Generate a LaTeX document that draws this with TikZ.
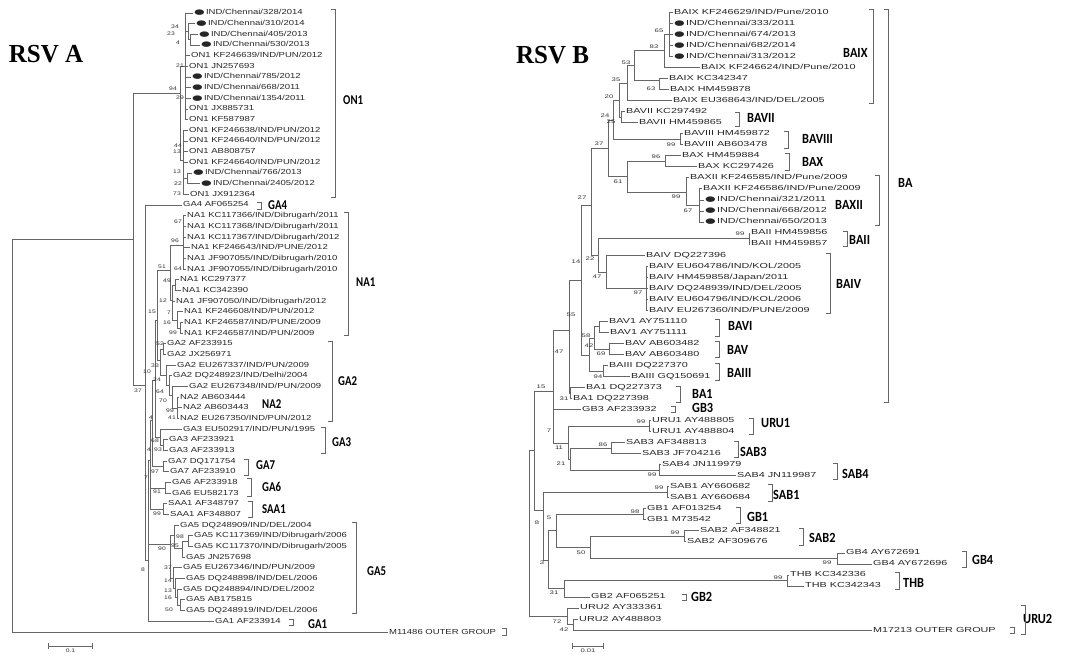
\documentclass[tikz,border=0pt]{standalone}
\usepackage{fontspec}
\newfontfamily\leaffont[FakeStretch=1.3]{Liberation Sans}
\newfontfamily\leafBfont[FakeStretch=1.48]{Liberation Sans}
\newfontfamily\dotfont[FakeStretch=1.7]{DejaVu Sans}
\newfontfamily\cladefont[FakeStretch=0.8]{Carlito}
\newfontfamily\cladeBfont[FakeStretch=0.88]{Carlito}
\newfontfamily\titlefont[FakeStretch=0.96]{Liberation Serif}
\usetikzlibrary{positioning, arrows.meta}
\newcommand{\chdot}{{\dotfont\fontsize{7.2}{7}\selectfont ●}\,}

\begin{document}
\begin{tikzpicture}[x=1pt,y=-1pt,
		br/.style={draw=black!60,line width=0.6pt},
		brk/.style={draw=black!60,line width=0.7pt},
		leaf/.style={anchor=west,inner sep=1pt,text height=5.3pt,text depth=1.3pt,font=\leaffont\fontsize{7.3}{8}\selectfont,text=black!85},
		leafB/.style={leaf,font=\leafBfont\fontsize{7.3}{8}\selectfont},
		bs/.style={inner sep=0pt,font=\leaffont\fontsize{5.2}{6}\selectfont,text=black!80},
		bsB/.style={bs,font=\leafBfont\fontsize{5.2}{6}\selectfont},
		clade/.style={anchor=west,inner sep=0pt,font=\cladefont\bfseries\fontsize{13.5}{14}\selectfont},
		cladeB/.style={clade,font=\cladeBfont\bfseries\fontsize{14}{15}\selectfont},
		ttl/.style={inner sep=0pt,font=\titlefont\bfseries\fontsize{26}{28}\selectfont},
		sbar/.style={br,{Bar[width=6pt]}-{Bar[width=6pt]}}]
		\useasboundingbox (0,0) rectangle (1066,658);
		\fill[white] (0,0) rectangle (1066,658);
		\node[ttl] (ttlA) at (46,54.5) {RSV A};
		\node[ttl] (ttlB) at (552.6,55) {RSV B};

		% RSV A leaves
		\node[leaf] (a1) at (193,13) {\chdot IND/Chennai/328/2014};
		\node[leaf] (a2) at (195,23.7) {\chdot IND/Chennai/310/2014};
		\node[leaf] (a3) at (198,34.3) {\chdot IND/Chennai/405/2013};
		\node[leaf] (a4) at (200,45) {\chdot IND/Chennai/530/2013};
		\node[leaf] (a5) at (190,55.7) {ON1 KF246639/IND/PUN/2012};
		\node[leaf] (a6) at (188,66.3) {ON1 JN257693};
		\node[leaf] (a7) at (191,77) {\chdot IND/Chennai/785/2012};
		\node[leaf] (a8) at (191,87.7) {\chdot IND/Chennai/668/2011};
		\node[leaf] (a9) at (191,98.4) {\chdot IND/Chennai/1354/2011};
		\node[leaf] (a10) at (188,109) {ON1 JX885731};
		\node[leaf] (a11) at (188,119.7) {ON1 KF587987};
		\node[leaf] (a12) at (188,130.4) {ON1 KF246638/IND/PUN/2012};
		\node[leaf] (a13) at (188,141) {ON1 KF246640/IND/PUN/2012};
		\node[leaf] (a14) at (188,151.7) {ON1 AB808757};
		\node[leaf] (a15) at (188,162.4) {ON1 KF246640/IND/PUN/2012};
		\node[leaf] (a16) at (192,173) {\chdot IND/Chennai/766/2013};
		\node[leaf] (a17) at (200,183.7) {\chdot IND/Chennai/2405/2012};
		\node[leaf] (a18) at (189,194.4) {ON1 JX912364};
		\node[leaf] (a19) at (182,205) {GA4 AF065254};
		\node[leaf] (a20) at (186,215.7) {NA1 KC117366/IND/Dibrugarh/2011};
		\node[leaf] (a21) at (186,226.4) {NA1 KC117368/IND/Dibrugarh/2011};
		\node[leaf] (a22) at (186,237) {NA1 KC117367/IND/Dibrugarh/2012};
		\node[leaf] (a23) at (190,247.7) {NA1 KF246643/IND/PUNE/2012};
		\node[leaf] (a24) at (186,258.4) {NA1 JF907055/IND/Dibrugarh/2010};
		\node[leaf] (a25) at (186,269) {NA1 JF907055/IND/Dibrugarh/2010};
		\node[leaf] (a26) at (179,279.7) {NA1 KC297377};
		\node[leaf] (a27) at (181,290.4) {NA1 KC342390};
		\node[leaf] (a28) at (175,301) {NA1 JF907050/IND/Dibrugarh/2012};
		\node[leaf] (a29) at (183,311.7) {NA1 KF246608/IND/PUN/2012};
		\node[leaf] (a30) at (183,322.4) {NA1 KF246587/IND/PUNE/2009};
		\node[leaf] (a31) at (183,333) {NA1 KF246587/IND/PUN/2009};
		\node[leaf] (a32) at (166,343.7) {GA2 AF233915};
		\node[leaf] (a33) at (166,354.4) {GA2 JX256971};
		\node[leaf] (a34) at (176,365) {GA2 EU267337/IND/PUN/2009};
		\node[leaf] (a35) at (172,375.7) {GA2 DQ248923/IND/Delhi/2004};
		\node[leaf] (a36) at (188,386.4) {GA2 EU267348/IND/PUN/2009};
		\node[leaf] (a37) at (179,397) {NA2 AB603444};
		\node[leaf] (a38) at (182,407.7) {NA2 AB603443};
		\node[leaf] (a39) at (179,418.4) {NA2 EU267350/IND/PUN/2012};
		\node[leaf] (a40) at (182,429) {GA3 EU502917/IND/PUN/1995};
		\node[leaf] (a41) at (168,439.7) {GA3 AF233921};
		\node[leaf] (a42) at (168,450.4) {GA3 AF233913};
		\node[leaf] (a43) at (167,461) {GA7 DQ171754};
		\node[leaf] (a44) at (169,471.7) {GA7 AF233910};
		\node[leaf] (a45) at (171,482.4) {GA6 AF233918};
		\node[leaf] (a46) at (171,493) {GA6 EU582173};
		\node[leaf] (a47) at (167,503.7) {SAA1 AF348797};
		\node[leaf] (a48) at (169,514.4) {SAA1 AF348807};
		\node[leaf] (a49) at (179,525) {GA5 DQ248909/IND/DEL/2004};
		\node[leaf] (a50) at (193,535.7) {GA5 KC117369/IND/Dibrugarh/2006};
		\node[leaf] (a51) at (193,546.4) {GA5 KC117370/IND/Dibrugarh/2005};
		\node[leaf] (a52) at (185,557) {GA5 JN257698};
		\node[leaf] (a53) at (182,567.7) {GA5 EU267346/IND/PUN/2009};
		\node[leaf] (a54) at (185,578.4) {GA5 DQ248898/IND/DEL/2006};
		\node[leaf] (a55) at (182,589) {GA5 DQ248894/IND/DEL/2002};
		\node[leaf] (a56) at (185,599.7) {GA5 AB175815};
		\node[leaf] (a57) at (185,610.4) {GA5 DQ248919/IND/DEL/2006};
		\node[leaf] (a58) at (214,621) {GA1 AF233914};
		\node[leaf] (a59) at (388,632) {M11486 OUTER GROUP};

		% RSV A inner nodes
		\coordinate (o1a) at (190,39);
		\coordinate (o1b) at (188,31);
		\coordinate (o1c) at (185,66);
		\coordinate (o2) at (187,178);
		\coordinate (o3) at (183,160);
		\coordinate (on1) at (180,93);
		\coordinate (na1a) at (183,245);
		\coordinate (na1b) at (175,285);
		\coordinate (na1d) at (180,328);
		\coordinate (na1y) at (177,320);
		\coordinate (na1x) at (172,300);
		\coordinate (na1) at (170,270);
		\coordinate (g2a) at (163,349);
		\coordinate (na2) at (177,408);
		\coordinate (g2b) at (172,395);
		\coordinate (g2c) at (169,385);
		\coordinate (g2d) at (166,375);
		\coordinate (g2) at (160,360);
		\coordinate (n15) at (157,320);
		\coordinate (ga3a) at (163,445);
		\coordinate (ga3) at (160,437);
		\coordinate (n4a) at (155,380);
		\coordinate (ga7) at (163,466);
		\coordinate (n4b) at (152,420);
		\coordinate (ga6) at (165,488);
		\coordinate (saa1) at (163,509);
		\coordinate (n7) at (150,460);
		\coordinate (g5a) at (188,541);
		\coordinate (g5b) at (182,548);
		\coordinate (g5c) at (174,535);
		\coordinate (g5d) at (180,605);
		\coordinate (g5e) at (177,597);
		\coordinate (g5f) at (175,588);
		\coordinate (g5g) at (173,578);
		\coordinate (ga5) at (170,544);
		\coordinate (n8) at (148,560);
		\coordinate (nrest) at (145,385);
		\coordinate (n37) at (133,239);
		\coordinate (rootA) at (12,435);

		% RSV A branches
		\foreach \c in {a3,a4} \draw[br] (o1a) |- (\c);
		\foreach \c in {a2,o1a} \draw[br] (o1b) |- (\c);
		\foreach \c in {a1,o1b,a5,a6,a7,a8,a9,a10,a11} \draw[br] (o1c) |- (\c);
		\foreach \c in {a16,a17} \draw[br] (o2) |- (\c);
		\foreach \c in {a12,a13,a14,a15,o2,a18} \draw[br] (o3) |- (\c);
		\foreach \c in {o1c,o3} \draw[br] (on1) |- (\c);
		\foreach \c in {a20,a21,a22,a23,a24,a25} \draw[br] (na1a) |- (\c);
		\foreach \c in {a26,a27} \draw[br] (na1b) |- (\c);
		\foreach \c in {a30,a31} \draw[br] (na1d) |- (\c);
		\foreach \c in {a29,na1d} \draw[br] (na1y) |- (\c);
		\foreach \c in {na1b,a28,na1y} \draw[br] (na1x) |- (\c);
		\foreach \c in {na1a,na1x} \draw[br] (na1) |- (\c);
		\foreach \c in {a32,a33} \draw[br] (g2a) |- (\c);
		\foreach \c in {a37,a38,a39} \draw[br] (na2) |- (\c);
		\foreach \c in {a36,na2} \draw[br] (g2b) |- (\c);
		\foreach \c in {a35,g2b} \draw[br] (g2c) |- (\c);
		\foreach \c in {a34,g2c} \draw[br] (g2d) |- (\c);
		\foreach \c in {g2a,g2d} \draw[br] (g2) |- (\c);
		\foreach \c in {na1,g2} \draw[br] (n15) |- (\c);
		\foreach \c in {a41,a42} \draw[br] (ga3a) |- (\c);
		\foreach \c in {a40,ga3a} \draw[br] (ga3) |- (\c);
		\foreach \c in {n15,ga3} \draw[br] (n4a) |- (\c);
		\foreach \c in {a43,a44} \draw[br] (ga7) |- (\c);
		\foreach \c in {n4a,ga7} \draw[br] (n4b) |- (\c);
		\foreach \c in {a45,a46} \draw[br] (ga6) |- (\c);
		\foreach \c in {a47,a48} \draw[br] (saa1) |- (\c);
		\foreach \c in {n4b,ga6,saa1} \draw[br] (n7) |- (\c);
		\foreach \c in {a50,a51} \draw[br] (g5a) |- (\c);
		\foreach \c in {g5a,a52} \draw[br] (g5b) |- (\c);
		\foreach \c in {a49,g5b} \draw[br] (g5c) |- (\c);
		\foreach \c in {a56,a57} \draw[br] (g5d) |- (\c);
		\foreach \c in {a55,g5d} \draw[br] (g5e) |- (\c);
		\foreach \c in {a54,g5e} \draw[br] (g5f) |- (\c);
		\foreach \c in {a53,g5f} \draw[br] (g5g) |- (\c);
		\foreach \c in {g5c,g5g} \draw[br] (ga5) |- (\c);
		\foreach \c in {n7,ga5,a58} \draw[br] (n8) |- (\c);
		\foreach \c in {a19,n8} \draw[br] (nrest) |- (\c);
		\foreach \c in {on1,nrest} \draw[br] (n37) |- (\c);
		\foreach \c in {n37,a59} \draw[br] (rootA) |- (\c);

		% RSV B leaves
		\node[leafB] (b1) at (673,12.3) {BAIX KF246629/IND/Pune/2010};
		\node[leafB] (b2) at (673,23.3) {\chdot IND/Chennai/333/2011};
		\node[leafB] (b3) at (673,34.4) {\chdot IND/Chennai/674/2013};
		\node[leafB] (b4) at (673,45.4) {\chdot IND/Chennai/682/2014};
		\node[leafB] (b5) at (673,56.4) {\chdot IND/Chennai/313/2012};
		\node[leafB] (b6) at (700,67.5) {BAIX KF246624/IND/Pune/2010};
		\node[leafB] (b7) at (668,78.5) {BAIX KC342347};
		\node[leafB] (b8) at (669,89.5) {BAIX HM459878};
		\node[leafB] (b9) at (672,100.5) {BAIX EU368643/IND/DEL/2005};
		\node[leafB] (b10) at (625,111.6) {BAVII KC297492};
		\node[leafB] (b11) at (638,122.6) {BAVII HM459865};
		\node[leafB] (b12) at (683,133.6) {BAVIII HM459872};
		\node[leafB] (b13) at (683,144.7) {BAVIII AB603478};
		\node[leafB] (b14) at (681,155.7) {BAX HM459884};
		\node[leafB] (b15) at (697,166.7) {BAX KC297426};
		\node[leafB] (b16) at (689,177.8) {BAXII KF246585/IND/Pune/2009};
		\node[leafB] (b17) at (702,188.8) {BAXII KF246586/IND/Pune/2009};
		\node[leafB] (b18) at (704,199.8) {\chdot IND/Chennai/321/2011};
		\node[leafB] (b19) at (704,210.8) {\chdot IND/Chennai/668/2012};
		\node[leafB] (b20) at (704,221.9) {\chdot IND/Chennai/650/2013};
		\node[leafB] (b21) at (750,232.9) {BAII HM459856};
		\node[leafB] (b22) at (750,243.9) {BAII HM459857};
		\node[leafB] (b23) at (645,255) {BAIV DQ227396};
		\node[leafB] (b24) at (648,266) {BAIV EU604786/IND/KOL/2005};
		\node[leafB] (b25) at (648,277) {BAIV HM459858/Japan/2011};
		\node[leafB] (b26) at (648,288.1) {BAIV DQ248939/IND/DEL/2005};
		\node[leafB] (b27) at (648,299.1) {BAIV EU604796/IND/KOL/2006};
		\node[leafB] (b28) at (648,310.1) {BAIV EU267360/IND/PUNE/2009};
		\node[leafB] (b29) at (608,321.1) {BAV1 AY751110};
		\node[leafB] (b30) at (609,332.2) {BAV1 AY751111};
		\node[leafB] (b31) at (624,343.2) {BAV AB603482};
		\node[leafB] (b32) at (624,354.2) {BAV AB603480};
		\node[leafB] (b33) at (608,365.3) {BAIII DQ227370};
		\node[leafB] (b34) at (630,376.3) {BAIII GQ150691};
		\node[leafB] (b35) at (585,387.3) {BA1 DQ227373};
		\node[leafB] (b36) at (572,398.4) {BA1 DQ227398};
		\node[leafB] (b37) at (581,409.4) {GB3 AF233932};
		\node[leafB] (b38) at (651,420.4) {URU1 AY488805};
		\node[leafB] (b39) at (651,431.4) {URU1 AY488804};
		\node[leafB] (b40) at (625,442.5) {SAB3 AF348813};
		\node[leafB] (b41) at (641,453.5) {SAB3 JF704216};
		\node[leafB] (b42) at (661,464.5) {SAB4 JN119979};
		\node[leafB] (b43) at (736,475.6) {SAB4 JN119987};
		\node[leafB] (b44) at (669,486.6) {SAB1 AY660682};
		\node[leafB] (b45) at (669,497.6) {SAB1 AY660684};
		\node[leafB] (b46) at (646,508.7) {GB1 AF013254};
		\node[leafB] (b47) at (646,519.7) {GB1 M73542};
		\node[leafB] (b48) at (699,530.7) {SAB2 AF348821};
		\node[leafB] (b49) at (686,541.7) {SAB2 AF309676};
		\node[leafB] (b50) at (845,552.8) {GB4 AY672691};
		\node[leafB] (b51) at (872,563.8) {GB4 AY672696};
		\node[leafB] (b52) at (789,574.8) {THB KC342336};
		\node[leafB] (b53) at (804,585.9) {THB KC342343};
		\node[leafB] (b54) at (590,596.9) {GB2 AF065251};
		\node[leafB] (b55) at (579,607.9) {URU2 AY333361};
		\node[leafB] (b56) at (578,619) {URU2 AY488803};
		\node[leafB] (b57) at (872,630) {M17213 OUTER GROUP};

		% RSV B inner nodes
		\coordinate (bx1) at (669,34);
		\coordinate (bx2) at (664,50);
		\coordinate (bx3) at (659,80);
		\coordinate (bx4) at (634,65);
		\coordinate (bx5) at (627,83);
		\coordinate (bvii) at (621,117);
		\coordinate (bx6) at (619,100);
		\coordinate (bviii) at (680,139);
		\coordinate (bx7) at (613,120);
		\coordinate (bax) at (665,161);
		\coordinate (bxii2) at (699,205);
		\coordinate (bxii1) at (686,192);
		\coordinate (bx8) at (627,176);
		\coordinate (bx9) at (608,148);
		\coordinate (baii) at (749,238);
		\coordinate (baiv1) at (646,288);
		\coordinate (baiv) at (606,272);
		\coordinate (bx10) at (598,255);
		\coordinate (bx11) at (591,205);
		\coordinate (bvi) at (599,326);
		\coordinate (bv) at (609,349);
		\coordinate (n42) at (594,338);
		\coordinate (biii) at (603,371);
		\coordinate (nvi) at (589,355);
		\coordinate (n14) at (581,280);
		\coordinate (ba1) at (570,393);
		\coordinate (n47) at (569,330);
		\coordinate (uru1) at (649,426);
		\coordinate (sab3) at (611,448);
		\coordinate (sab4) at (659,470);
		\coordinate (n21) at (570,459);
		\coordinate (n11) at (568,443);
		\coordinate (nb7) at (553,391);
		\coordinate (sab1) at (667,492);
		\coordinate (gb1) at (643,514);
		\coordinate (sab2) at (684,536);
		\coordinate (gb4) at (837,558);
		\coordinate (n50) at (590,547);
		\coordinate (n5) at (556,530);
		\coordinate (thb) at (787,580);
		\coordinate (n31) at (564,588);
		\coordinate (n3) at (548,560);
		\coordinate (n8b) at (543,510);
		\coordinate (n15b) at (534,450);
		\coordinate (uru2a) at (573,624);
		\coordinate (uru2) at (567,616);
		\coordinate (rootB) at (529,530);

		% RSV B branches
		\foreach \c in {b1,b2,b3,b4,b5} \draw[br] (bx1) |- (\c);
		\foreach \c in {bx1,b6} \draw[br] (bx2) |- (\c);
		\foreach \c in {b7,b8} \draw[br] (bx3) |- (\c);
		\foreach \c in {bx2,bx3} \draw[br] (bx4) |- (\c);
		\foreach \c in {bx4,b9} \draw[br] (bx5) |- (\c);
		\foreach \c in {b10,b11} \draw[br] (bvii) |- (\c);
		\foreach \c in {bx5,bvii} \draw[br] (bx6) |- (\c);
		\foreach \c in {b12,b13} \draw[br] (bviii) |- (\c);
		\foreach \c in {bx6,bviii} \draw[br] (bx7) |- (\c);
		\foreach \c in {b14,b15} \draw[br] (bax) |- (\c);
		\foreach \c in {b17,b18,b19,b20} \draw[br] (bxii2) |- (\c);
		\foreach \c in {b16,bxii2} \draw[br] (bxii1) |- (\c);
		\foreach \c in {bax,bxii1} \draw[br] (bx8) |- (\c);
		\foreach \c in {bx7,bx8} \draw[br] (bx9) |- (\c);
		\foreach \c in {b21,b22} \draw[br] (baii) |- (\c);
		\foreach \c in {b24,b25,b26,b27,b28} \draw[br] (baiv1) |- (\c);
		\foreach \c in {b23,baiv1} \draw[br] (baiv) |- (\c);
		\foreach \c in {baii,baiv} \draw[br] (bx10) |- (\c);
		\foreach \c in {bx9,bx10} \draw[br] (bx11) |- (\c);
		\foreach \c in {b29,b30} \draw[br] (bvi) |- (\c);
		\foreach \c in {b31,b32} \draw[br] (bv) |- (\c);
		\foreach \c in {bvi,bv} \draw[br] (n42) |- (\c);
		\foreach \c in {b33,b34} \draw[br] (biii) |- (\c);
		\foreach \c in {n42,biii} \draw[br] (nvi) |- (\c);
		\foreach \c in {bx11,nvi} \draw[br] (n14) |- (\c);
		\foreach \c in {b35,b36} \draw[br] (ba1) |- (\c);
		\foreach \c in {n14,ba1} \draw[br] (n47) |- (\c);
		\foreach \c in {b38,b39} \draw[br] (uru1) |- (\c);
		\foreach \c in {b40,b41} \draw[br] (sab3) |- (\c);
		\foreach \c in {b42,b43} \draw[br] (sab4) |- (\c);
		\foreach \c in {sab3,sab4} \draw[br] (n21) |- (\c);
		\foreach \c in {uru1,n21} \draw[br] (n11) |- (\c);
		\foreach \c in {n47,b37,n11} \draw[br] (nb7) |- (\c);
		\foreach \c in {b44,b45} \draw[br] (sab1) |- (\c);
		\foreach \c in {b46,b47} \draw[br] (gb1) |- (\c);
		\foreach \c in {b48,b49} \draw[br] (sab2) |- (\c);
		\foreach \c in {b50,b51} \draw[br] (gb4) |- (\c);
		\foreach \c in {sab2,gb4} \draw[br] (n50) |- (\c);
		\foreach \c in {gb1,n50} \draw[br] (n5) |- (\c);
		\foreach \c in {b52,b53} \draw[br] (thb) |- (\c);
		\foreach \c in {thb,b54} \draw[br] (n31) |- (\c);
		\foreach \c in {n5,n31} \draw[br] (n3) |- (\c);
		\foreach \c in {sab1,n3} \draw[br] (n8b) |- (\c);
		\foreach \c in {nb7,n8b} \draw[br] (n15b) |- (\c);
		\foreach \c in {b56,b57} \draw[br] (uru2a) |- (\c);
		\foreach \c in {b55,uru2a} \draw[br] (uru2) |- (\c);
		\foreach \c in {n15b,uru2} \draw[br] (rootB) |- (\c);

		% bootstrap values
		\foreach \x/\y/\t [count=\k] in {173/89/94,175/27/34,171/34/23,178/43/4,180/66/21,180/98/29,
			178/146/44,177/152/13,177/172/13,178/184/22,177/194/73,178/222/67,175/241/96,178/269/64,
			162/267/51,167/281/49,163/301/12,169/313/7,152/312/15,167/323/16,173/333/99,160/344/52,
			155/366/33,147/372/10,157/380/24,160/392/64,163/401/70,170/411/99,172/418/41,151/418/4,
			155/441/68,158/450/93,149/450/4,155/472/97,146/478/7,157/492/91,157/514/99,180/537/98,
			175/546/95,162/549/90,168/568/37,168/581/14,168/591/13,168/598/16,169/610/50,143/570/8,
			138/391/37}
			\node[bs] (sa\k) at (\x,\y) {\t};
		\foreach \x/\y/\t [count=\k] in {659/31/65,654/47/83,626/63/53,616/80/35,651/89/63,609/97/20,
			605/116/24,611/122/25,671/145/99,599/144/37,656/157/96,618/182/61,676/197/99,688/211/67,
			582/198/27,740/234/99,590/259/22,576/262/14,597/277/47,638/293/97,571/315/55,586/336/58,
			589/346/42,601/354/69,598/377/94,559/352/47,541/387/15,564/399/31,549/431/7,641/422/99,
			559/448/11,603/445/86,561/464/21,652/475/99,659/488/99,635/512/98,549/518/5,537/523/8,
			675/533/99,581/553/50,827/563/99,542/563/3,778/578/99,554/593/31,557/622/72,564/630/42}
			\node[bsB] (sb\k) at (\x,\y) {\t};

		% clade names and brackets
		\foreach \x/\y/\t [count=\k] in {343/100/ON1,268/205/GA4,356/282/NA1,338/381/GA2,262/404/NA2,
			332/442/GA3,256/465/GA7,262/487/GA6,262/509/SAA1,367/571/GA5,308/624/GA1}
			\node[clade] (ca\k) at (\x,\y) {\t};
		\foreach \x/\y/\t [count=\k] in {843/53/BAIX,747/118/BAVII,802/139/BAVIII,802/162/BAX,898/183/BA,
			835/205/BAXII,849/240/BAII,836/284/BAIV,728/326/BAVI,727/350/BAV,727/373/BAIII,
			692/394/BA1,692/408/GB3,761/423/URU1,740/452/SAB3,842/474/SAB4,773/495/SAB1,
			747/517/GB1,809/538/SAB2,972/560/GB4,903/583/THB,691/597/GB2,1023/619/URU2}
			\node[cladeB] (cb\k) at (\x,\y) {\t};
		\foreach \x/\ya/\yb in {335/9/197,261/202/209,348/212/335,332/341/421,325/427/453,248/459/475,
			251/478/496,252/501/517,356/522/613,293/619/625,506/628/635,
			873/9/103,888/9/402,739/112/126,788/131/148,789/153/170,879/175/225,847/231/246,
			830/253/313,719/319/336,719/341/357,719/363/380,680/386/402,675/406/412,753/418/434,
			738/441/457,837/463/479,772/484/501,740/507/523,803/528/545,966/551/567,899/572/589,
			686/594/600,1025/605/634,1014/627/633}
			\draw[brk] (\x-4,\ya) -- (\x,\ya) -- (\x,\yb) -- (\x-4,\yb);

		% scale bars
		\coordinate (sA1) at (48,646);
		\coordinate (sA2) at (93,646);
		\coordinate (sAm) at (70.5,646);
		\draw[sbar] (sA1) -- (sA2);
		\node[bs, below=2.5pt of sAm] (lsA) {0.1};
		\coordinate (sB1) at (572,646);
		\coordinate (sB2) at (604,646);
		\coordinate (sBm) at (588,646);
		\draw[sbar] (sB1) -- (sB2);
		\node[bsB, below=2.5pt of sBm] (lsB) {0.01};
	\end{tikzpicture}
\end{document}
